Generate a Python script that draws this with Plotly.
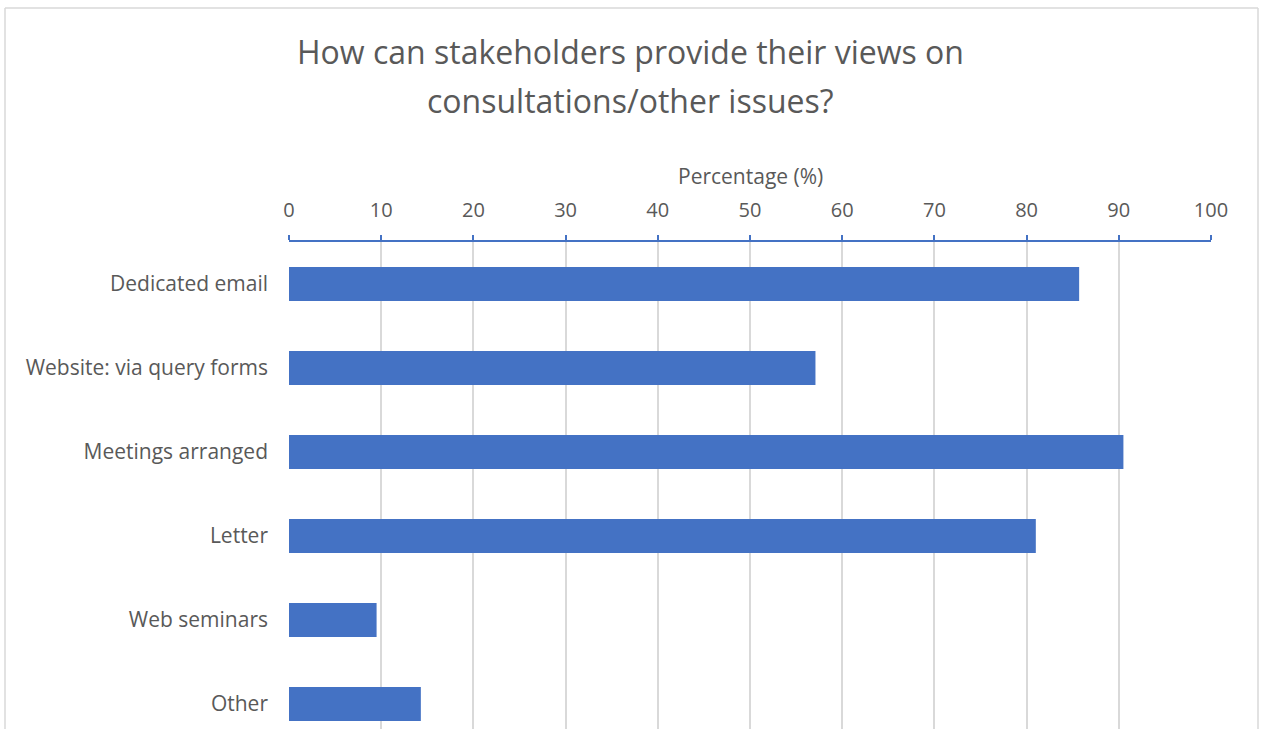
import plotly.graph_objects as go

categories = ["Dedicated email", "Website: via query forms", "Meetings arranged",
              "Letter", "Web seminars", "Other"]
percentages = [85.7, 57.1, 90.5, 81.0, 9.5, 14.3]
title_lines = ["How can stakeholders provide their views on", "consultations/other issues?"]
axis_title = "Percentage (%)"

W, H = 1261, 729
L, R, T, B = 289, 50, 242, 0
pw, ph = W - L - R, H - T - B

def px_x(x):
    return (x - L) / pw

def px_y(y):
    return 1 - (y - T) / ph

fig = go.Figure(go.Bar(
    x=percentages, y=categories, orientation="h",
    marker=dict(color="#4472C4", line=dict(width=0)),
    width=0.405,
))

annotations = []
for i, line in enumerate(title_lines):
    annotations.append(dict(
        text=line, xref="paper", yref="paper",
        x=px_x(W / 2), y=px_y(52 + 48 * i), xanchor="center", yanchor="middle",
        showarrow=False, font=dict(size=32, color="#595959"),
    ))
annotations.append(dict(
    text=axis_title, xref="paper", yref="paper",
    x=0.5, y=px_y(176), xanchor="center", yanchor="middle",
    showarrow=False, font=dict(size=21, color="#595959"),
))

border = dict(color="#D9D9D9", width=1.5)
fig.update_layout(
    width=W, height=H,
    margin=dict(l=L, r=R, t=T, b=B),
    paper_bgcolor="white", plot_bgcolor="white",
    font=dict(family="Open Sans, Liberation Sans, sans-serif", color="#595959"),
    showlegend=False,
    annotations=annotations,
    shapes=[
        dict(type="line", xref="paper", yref="paper", x0=px_x(5), x1=px_x(5),
             y0=px_y(8), y1=-0.2, line=border),
        dict(type="line", xref="paper", yref="paper", x0=px_x(1258), x1=px_x(1258),
             y0=px_y(8), y1=-0.2, line=border),
        dict(type="line", xref="paper", yref="paper", x0=px_x(5), x1=px_x(1258),
             y0=px_y(8), y1=px_y(8), line=border),
    ],
)

fig.update_xaxes(
    side="top", range=[0, 100], dtick=10,
    showgrid=True, gridcolor="#D9D9D9", gridwidth=1.5,
    showline=True, linecolor="#4472C4", linewidth=1.5,
    ticks="outside", ticklen=5, tickcolor="#4472C4", tickwidth=1.5,
    tickfont=dict(size=20, color="#595959"),
    ticklabelstandoff=10,
    zeroline=False,
)
fig.update_yaxes(
    range=[-0.5 + ph / 84, -0.5],
    showgrid=False, showline=False, ticks="",
    tickfont=dict(size=21, color="#595959"),
    ticklabelstandoff=20,
)

fig.write_html("out.html")
